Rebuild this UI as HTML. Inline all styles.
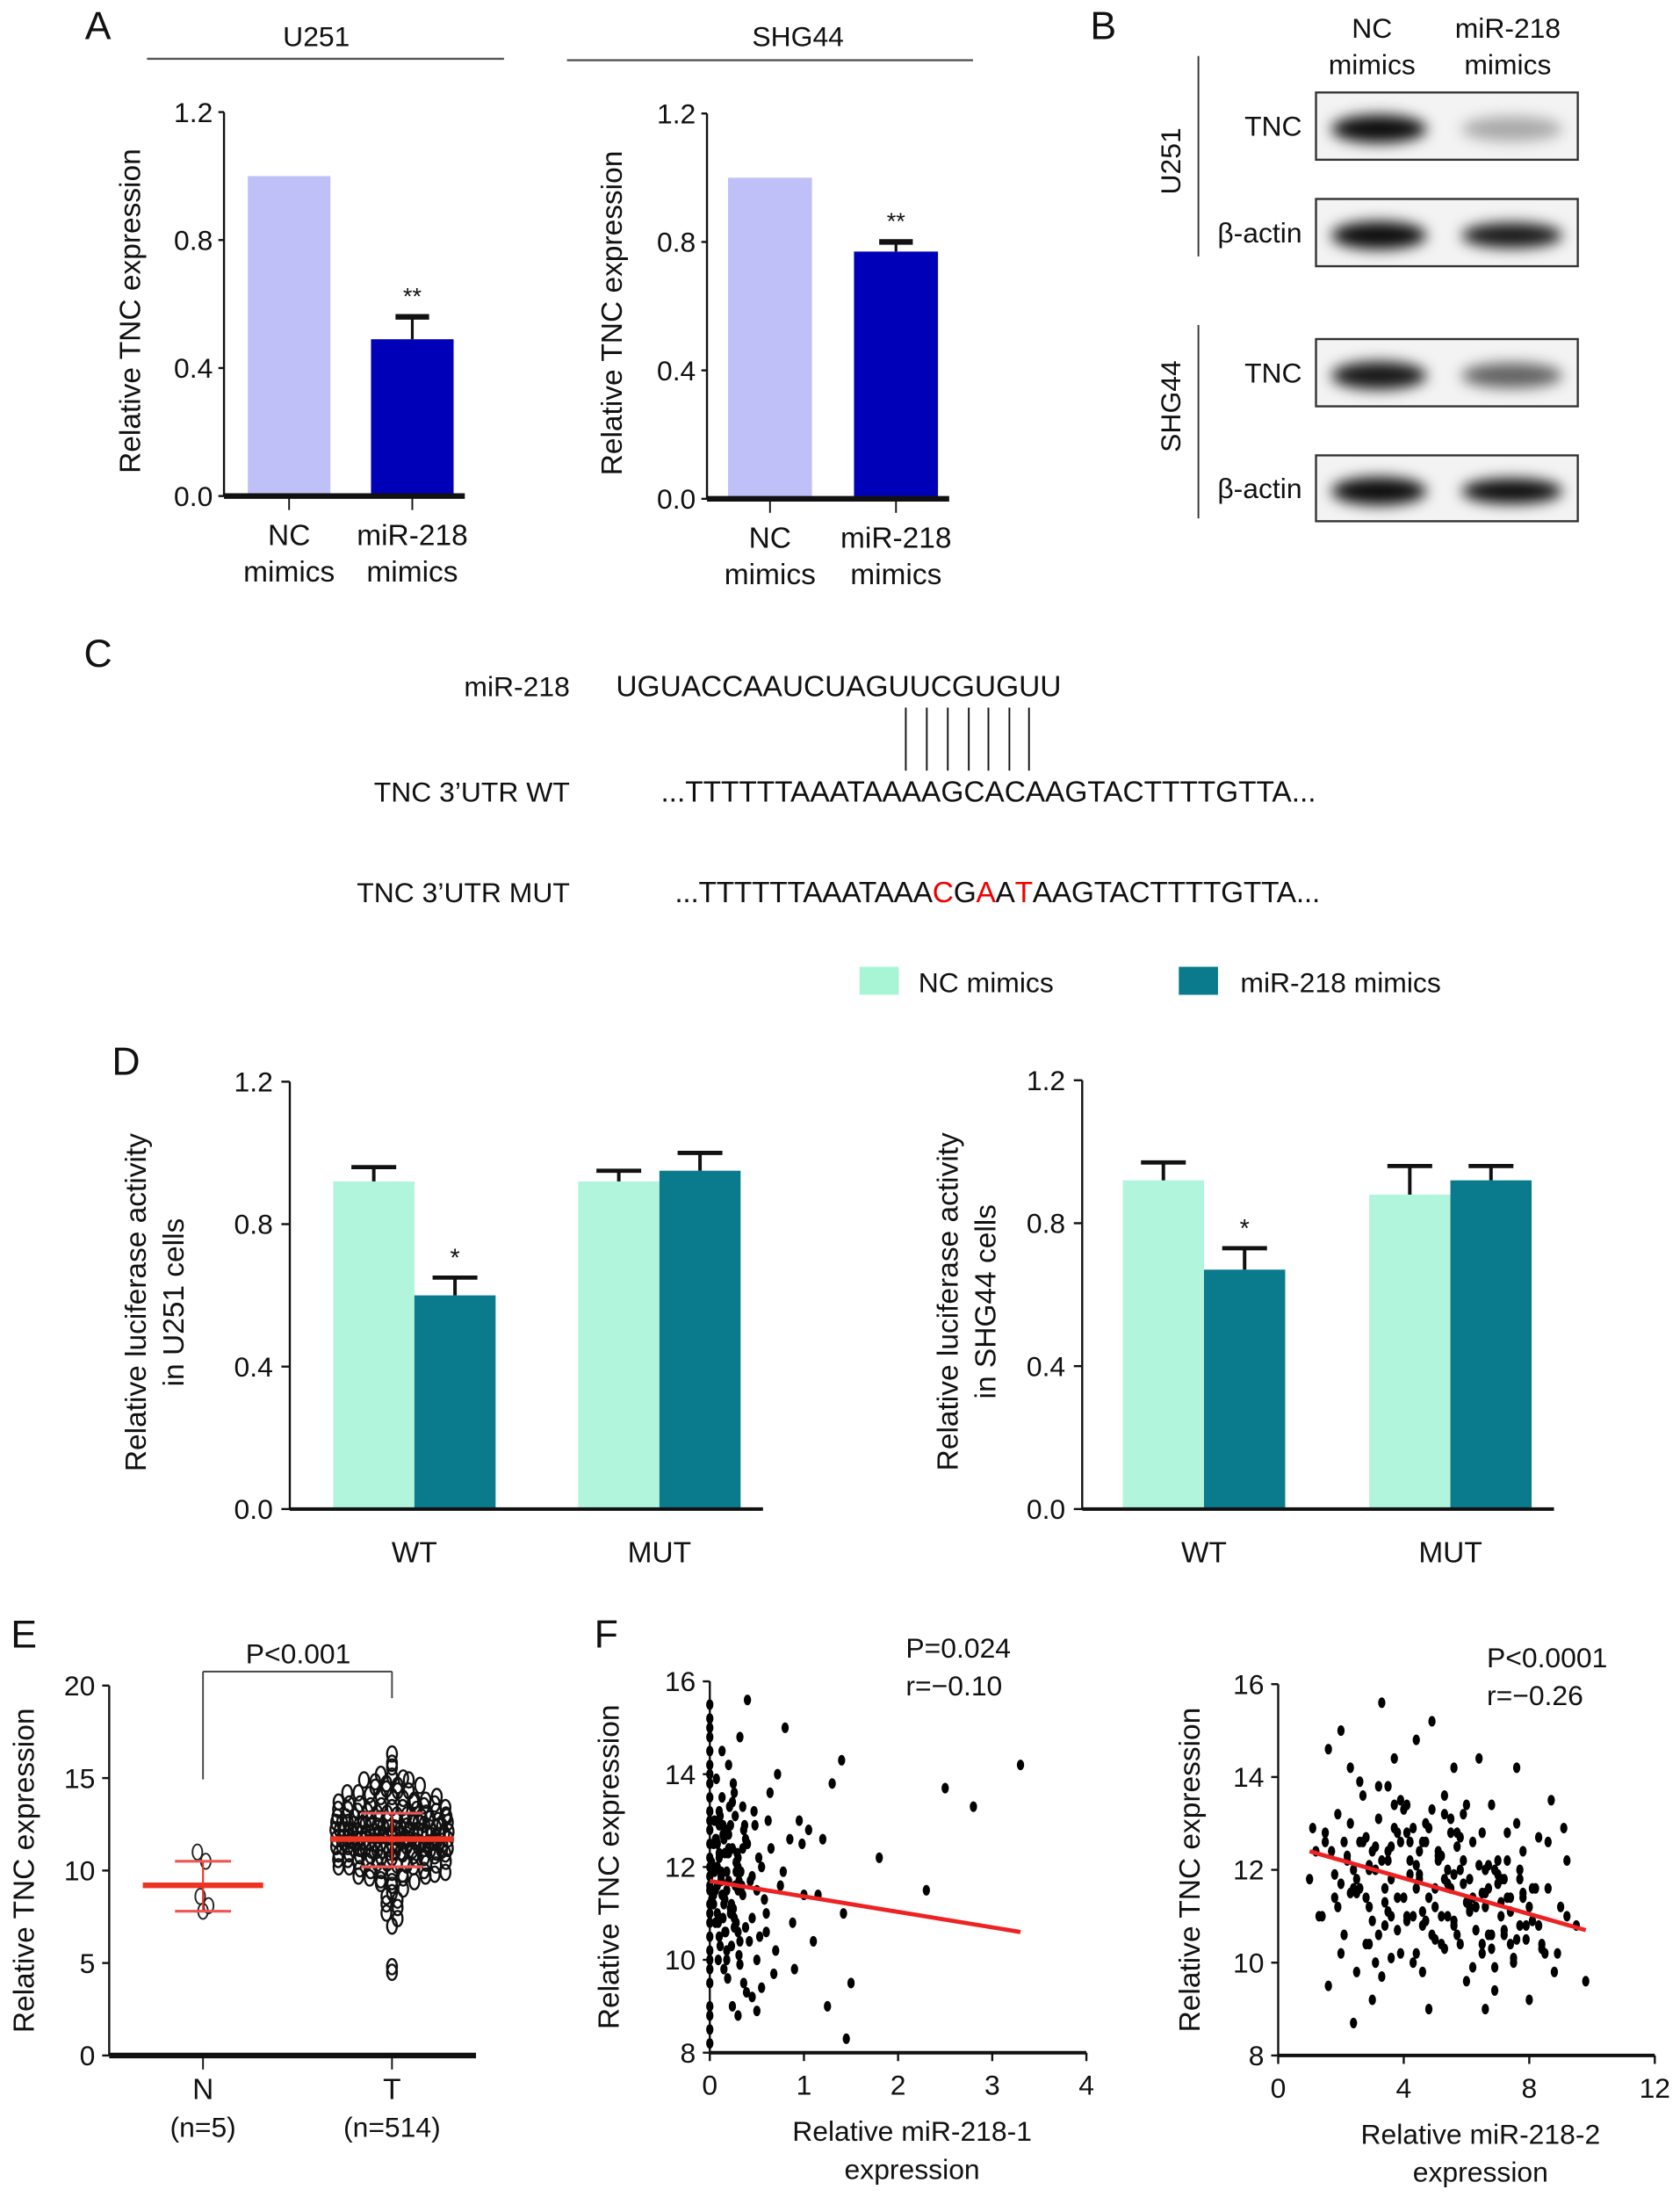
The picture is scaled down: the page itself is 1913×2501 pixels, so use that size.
<!DOCTYPE html>
<html><head><meta charset="utf-8"><style>
html,body{margin:0;padding:0;background:#fff;}
svg{display:block;font-family:"Liberation Sans",Arial,sans-serif;}
</style></head><body>
<svg id="fig" xmlns="http://www.w3.org/2000/svg" width="1913" height="2501" viewBox="0 0 1200 1568" preserveAspectRatio="none">
<defs><filter id="blur" x="-30%" y="-80%" width="160%" height="260%"><feGaussianBlur stdDeviation="5"/></filter></defs>
<g id="root"></g>
</svg>
<script>
// ===== DATA =====
const aCats = ["NC mimics","miR-218 mimics"];
const aU251 = [1.0, 0.49];
const aU251Err = [0, 0.07];
const aSHG44 = [1.0, 0.77];
const aSHG44Err = [0, 0.03];
const aTicks = [0.0, 0.4, 0.8, 1.2];
const dGroups = ["WT","MUT"];
const dU251NC = [0.92, 0.92];
const dU251NCErr = [0.04, 0.03];
const dU251Mi = [0.60, 0.95];
const dU251MiErr = [0.05, 0.05];
const dSHGNC = [0.92, 0.88];
const dSHGNCErr = [0.05, 0.08];
const dSHGMi = [0.67, 0.92];
const dSHGMiErr = [0.06, 0.04];
const eTicks = [0,5,10,15,20];
const eN = [11.0,10.5,8.6,8.1,7.8];
const eNStats = [9.2, 10.5, 7.8];
const eTStats = [11.7, 13.1, 10.2];
const eT = [16.3,15.8,15.6,15.2,15.1,15.0,14.9,14.8,14.7,14.6,14.5,14.4,14.3,14.2,14.2,14.1,14.0,14.0,13.9,13.8,13.8,13.7,13.6,13.6,13.5,13.5,13.4,13.4,13.3,13.3,13.2,13.2,13.1,13.1,13.0,13.0,12.9,12.9,12.9,12.8,12.8,12.8,12.7,12.7,12.7,12.6,12.6,12.6,12.5,12.5,12.5,12.4,12.4,12.4,12.3,12.3,12.3,12.2,12.2,12.2,12.1,12.1,12.1,12.0,12.0,12.0,11.9,11.9,11.9,11.8,11.8,11.8,11.7,11.7,11.7,11.6,11.6,11.6,11.5,11.5,11.5,11.4,11.4,11.4,11.3,11.3,11.3,11.2,11.2,11.2,11.1,11.1,11.1,11.0,11.0,11.0,10.9,10.9,10.8,10.8,10.7,10.7,10.6,10.6,10.5,10.5,10.4,10.4,10.3,10.3,10.2,10.2,10.1,10.0,10.0,9.9,9.8,9.7,9.6,9.5,9.4,9.3,9.2,9.0,8.8,8.6,8.4,8.2,8.0,7.7,7.4,7.0,4.8,4.5,12.0,11.8,12.2,11.6,11.9,12.4,11.3,12.6,11.1,12.8,
 14.9,14.6,14.3,14.0,13.7,13.5,13.3,13.1,12.9,12.8,12.6,12.5,12.3,12.2,12.1,12.0,11.9,11.8,11.7,11.6,11.5,11.4,11.3,11.2,11.1,11.0,10.9,10.8,10.6,10.4,10.2,10.0,9.8,9.6,9.4,13.6,13.2,12.7,12.3,11.9,11.5,11.1,10.7,10.3,9.9,12.4,12.0,11.6,11.2,10.8,12.9,12.1,11.4,10.9,13.4,12.6,11.7,10.5,9.7,13.0];
const f1X = [0,0,0,0,0,0,0,0,0,0,0,0,0,0,0.03,0.05,0.06,0.08,0.1,0.1,0.12,0.13,0.15,0.15,0.17,0.18,0.2,0.2,0.22,0.24,0.25,0.27,0.28,0.3,0.3,0.32,0.35,0.36,0.38,0.4,0.42,0.45,0.47,0.5,0.52,0.55,0.6,0.62,0.65,0.7,0.72,0.75,0.8,0.85,0.9,0.95,1.0,1.05,1.1,1.2,1.25,1.3,1.4,1.42,1.45,1.5,1.8,2.3,2.5,2.8,3.3,0.05,0.08,0.1,0.12,0.14,0.16,0.18,0.2,0.22,0.25,0.28,0.3,0.33,0.35,0.4,0.45,0.5,0.55,0.6,0.04,0.07,0.09,0.11,0.13,0.19,0.23,0.26,0.31,0.37,
 0,0,0,0,0,0,0,0,0,0,0,0,0,0,0,0,0.02,0.04,0.06,0.08,0.1,0.12,0.14,0.16,0.18,0.2,0.22,0.24,0.26,0.28,0.3,0.32,0.34,0.36,0.02,0.04,0.06,0.08,0.1,0.12,0.14,0.16,0.18,0.2,0.22,0.24,0.26,0.28,0.3,0.32,0.07,0.11,0.15,0.19,0.23,0.27,0.31,0.35,0.39,0.43,0.48,0.53,0.58,0.64,0.68,0.78,0.88,0.98,1.15,0.5,0.45,0.38,0.33,0.29,0.21,0.17,0.13,0.09];
const f1Y = [15.5,15.0,14.5,14.0,13.5,13.0,12.5,12.0,11.5,11.0,10.5,10.0,9.0,8.2,12.0,13.0,11.5,12.5,12.2,10.5,11.8,13.5,11.2,9.8,12.8,10.2,12.4,14.2,11.0,9.0,13.8,11.6,10.8,12.0,8.8,14.8,11.4,9.5,12.6,15.6,10.4,11.8,13.2,10.0,12.2,9.4,11.0,13.0,12.4,10.2,14.0,11.6,15.0,12.6,9.8,13.0,11.4,12.8,10.4,12.6,9.0,13.8,14.3,11.0,8.3,9.5,12.2,11.5,13.7,13.3,14.2,11.9,11.6,12.3,11.9,12.7,11.3,10.0,11.7,12.9,11.1,12.1,10.6,11.9,13.3,12.5,10.9,11.5,12.0,10.6,11.2,12.6,10.8,13.1,11.4,12.3,10.3,13.6,11.7,12.9,
 15.2,14.8,14.2,13.8,13.2,12.8,12.2,11.8,11.2,10.8,10.2,9.8,9.5,8.8,8.5,11.6,12.1,11.4,12.6,11.0,12.9,11.7,10.9,12.3,11.5,12.7,11.1,12.4,10.7,11.9,12.2,10.4,11.6,12.8,11.3,12.5,10.8,12.0,13.2,11.7,12.9,10.6,11.9,12.3,11.1,13.4,10.9,12.1,11.5,9.9,13.9,10.3,12.6,9.6,11.2,13.1,10.1,12.4,9.3,11.7,12.9,10.5,11.3,13.6,9.7,11.9,10.8,12.5,11.4,8.9,9.2,10.7,11.5,12.3,13.3,10.6,14.5,10.0];
const f1Fit = [[0,11.7],[3.3,10.6]];
const f1XTicks = [0,1,2,3,4];
const fYTicks = [8,10,12,14,16];
const f2X = [1.0,1.2,1.3,1.5,1.6,1.8,1.9,2.0,2.1,2.2,2.3,2.4,2.5,2.6,2.7,2.8,2.9,3.0,3.1,3.2,3.3,3.4,3.5,3.6,3.7,3.8,3.9,4.0,4.1,4.2,4.3,4.4,4.5,4.6,4.7,4.8,4.9,5.0,5.1,5.2,5.3,5.4,5.5,5.6,5.7,5.8,5.9,6.0,6.1,6.2,6.3,6.4,6.5,6.6,6.7,6.8,6.9,7.0,7.1,7.2,7.3,7.4,7.5,7.6,7.7,7.8,7.9,8.0,8.2,8.4,8.6,8.8,9.0,9.2,9.5,9.8,1.4,1.7,2.0,2.3,2.6,2.9,3.2,3.5,3.8,4.1,4.4,4.7,5.0,5.3,5.6,5.9,6.2,6.5,6.8,7.1,7.4,7.7,8.0,8.3,8.6,8.9,9.2,2.1,2.5,2.9,3.3,3.7,4.1,4.5,4.9,5.3,5.7,6.1,6.5,6.9,7.3,7.7,8.1,8.5,1.9,2.4,2.8,3.1,3.4,3.9,4.3,4.6,5.1,5.5,5.8,6.3,6.7,7.2,7.6,3.0,3.6,4.2,4.8,5.4,6.0,6.6,2.7,3.5,4.4,5.2,6.1,7.0,
 1.1,1.5,1.8,2.2,2.5,2.8,3.0,3.2,3.4,3.6,3.8,4.0,4.2,4.4,4.6,4.8,5.0,5.2,5.4,5.6,5.8,6.0,6.2,6.4,6.6,6.8,7.0,7.2,7.4,7.6,7.8,8.1,8.4,8.7,9.1,2.0,2.6,3.1,3.5,3.9,4.3,4.7,5.1,5.5,5.9,6.3,6.7,7.1,7.5,7.9,8.3,2.3,2.9,3.3,3.7,4.1,4.5,4.9,5.3,5.7,6.1,6.5,6.9,7.3,7.8,1.6,2.4,3.6,4.6,5.6,6.6,7.6,8.6];
const f2Y = [11.8,12.4,11.0,12.8,14.6,11.4,13.2,15.0,10.6,12.2,14.2,11.6,9.8,12.6,13.6,10.4,11.2,9.2,12.0,13.8,15.6,10.8,12.4,11.0,14.4,12.8,10.2,11.4,13.4,12.2,10.0,14.8,11.8,12.6,13.0,9.0,15.2,11.6,12.4,10.4,13.6,11.0,12.8,14.2,10.6,12.0,13.2,9.6,11.8,12.6,11.2,14.4,10.2,12.0,11.6,13.4,9.4,12.2,11.0,10.6,12.8,11.4,10.0,14.2,11.8,12.4,10.8,9.2,11.6,10.4,12.6,9.8,11.2,12.2,10.8,9.6,11.0,12.4,10.2,13.0,11.6,12.0,10.6,13.8,11.4,12.8,10.2,12.6,11.2,13.2,10.8,12.2,11.4,12.8,10.6,11.8,10.4,12.0,11.2,10.8,11.6,10.2,11.0,12.6,11.8,10.4,12.2,13.4,11.0,12.4,10.6,11.8,12.8,11.2,10.4,12.0,11.4,10.8,11.6,10.2,11.2,12.0,11.4,10.0,11.6,12.6,11.0,10.8,12.2,11.6,10.4,11.2,10.6,11.8,13.0,12.4,11.8,12.6,11.4,12.0,13.4,11.2,12.6,12.2,11.6,11.0,
 11.2,11.7,12.9,12.6,11.9,12.3,11.5,12.7,10.9,13.1,11.3,12.5,10.7,13.3,11.9,12.1,11.1,12.9,10.5,12.3,11.7,10.9,12.7,11.3,9.9,12.1,11.5,10.3,11.9,10.7,11.1,10.5,11.5,10.9,10.3,13.5,12.9,11.7,13.9,12.5,11.1,13.5,12.9,10.9,12.3,13.1,11.7,10.7,12.1,11.3,10.1,10.5,12.7,11.5,12.1,9.7,12.9,10.9,11.9,13.3,10.3,12.5,11.1,11.5,9.9,12.2,11.4,9.5,8.7,10.1,9.8,11.9,9.0];
const f2Fit = [[1.0,12.4],[9.8,10.7]];
const f2XTicks = [0,4,8,12];

// ===== HELPERS =====
const root = document.getElementById('root');
const NS = "http://www.w3.org/2000/svg";
function mk(tag, attrs, parent){ const e=document.createElementNS(NS,tag); for(const k in attrs) e.setAttribute(k,attrs[k]); (parent||root).appendChild(e); return e; }
function txt(x,y,s,size,anchor,name,extra){ const t=mk('text',Object.assign({x:x,y:y,'font-size':size,'text-anchor':anchor||'middle',fill:'#111'},extra||{})); t.textContent=s;
 
 
 return t; }
function line(x1,y1,x2,y2,w,name,col){ const l=mk('line',{x1:x1,y1:y1,x2:x2,y2:y2,stroke:col||'#111','stroke-width':w});
 
 
 return l; }
function rect(x,y,w,h,fill,name){ const r=mk('rect',{x:x,y:y,width:w,height:h,fill:fill});
 
 
 return r; }
function vtext(x,y,s,size,name){ const t=txt(0,0,s,size,'middle',name); t.setAttribute('transform','translate('+x+','+y+') rotate(-90)'); return t; }
function yScale(y0,y1,vmax){ return v => y0 - (y0-y1)*v/vmax; }

// ===== PANEL A =====
txt(70,28,'A',28,'middle','panel-label-a');
txt(226,33,'U251',20,'middle','u251-header'); line(105,42,360,42,1.5,'u251-header-line','#555');
txt(570,33,'SHG44',20,'middle','shg44-header'); line(405,43,695,43,1.5,'shg44-header-line','#555');
function panelA(ax,y0,y1,bx,bw,vals,errs,lx,name){
  const ys=yScale(y0,y1,1.2);
  line(ax,y1,ax,y0,1.5,name+'-y-axis');
  aTicks.forEach(t=>{ line(ax-4,ys(t),ax,ys(t),1.5,name+'-y-tick'); txt(ax-8,ys(t)+7,t.toFixed(1),20,'end',name+'-y-tick-label'); });
  const cols=['#c0c0f8','#0000b8'];
  vals.forEach((v,i)=>{
    rect(bx[i],ys(v),bw,y0-ys(v),cols[i],name+'-bar-'+i);
    if(errs[i]>0){ const cx=bx[i]+bw/2; line(cx,ys(v),cx,ys(v+errs[i]),2,name+'-error-bar'); line(cx-12,ys(v+errs[i]),cx+12,ys(v+errs[i]),4,name+'-error-cap');
      txt(cx,ys(v+errs[i])-9,'**',17,'middle',name+'-significance'); }
    const cx=bx[i]+bw/2; line(cx,y0,cx,y0+10,1.2,name+'-x-tick');
    const parts=aCats[i].split(' ');
    txt(cx,y0+35,parts[0],21,'middle',name+'-x-label');
    txt(cx,y0+61,parts[1],21,'middle',name+'-x-label');
  });
  line(ax,y0,bx[1]+bw+8,y0,4,name+'-baseline');
  vtext(lx,(y0+y1)/2+5,'Relative TNC expression',21,name+'-y-axis-title');
}
panelA(160,354,80,[177,265],59,aU251,aU251Err,100,'a-u251');
panelA(505,356,81,[520,610],60,aSHG44,aSHG44Err,444,'a-shg44');

// ===== PANEL B =====
txt(788,28,'B',28,'middle','panel-label-b');
txt(980,27,'NC',20,'middle','b-col-nc'); txt(980,53,'mimics',20,'middle','b-col-nc');
txt(1077,27,'miR-218',20,'middle','b-col-mir'); txt(1077,53,'mimics',20,'middle','b-col-mir');
line(856,40,856,183,1.2,'b-u251-bracket','#333'); vtext(843,115,'U251',20,'b-u251-label');
line(856,232,856,370,1.2,'b-shg44-bracket','#333'); vtext(843,290,'SHG44',20,'b-shg44-label');
function blot(y,h,label,l,r,name){
  const b=rect(940,y,187,h,'#f3f3f3',name+'-box'); b.setAttribute('stroke','#333'); b.setAttribute('stroke-width','1.5');
  txt(930,y+h/2+7,label,20,'end',name+'-label');
  const g=mk('g',{filter:'url(#blur)'});
  
  
  mk('ellipse',{cx:985,cy:y+h/2+2,rx:34,ry:10,fill:'#000','fill-opacity':l},g);
  mk('ellipse',{cx:1080,cy:y+h/2+2,rx:36,ry:9,fill:'#000','fill-opacity':r},g);
}
blot(66,48,'TNC',0.95,0.3,'b-u251-tnc');
blot(142,48,'β-actin',0.95,0.9,'b-u251-actin');
blot(242,48,'TNC',0.9,0.6,'b-shg44-tnc');
blot(325,47,'β-actin',0.95,0.95,'b-shg44-actin');

// ===== PANEL C =====
txt(70,476,'C',28,'middle','panel-label-c');
txt(407,497,'miR-218',20,'end','c-mir218-label');
txt(440,497,'UGUACCAAUCUAGUUCGUGUU',21,'start','c-mir218-seq',{textLength:318});
[647,662,677,692,706,721,735].forEach(x=>line(x,505,x,550,1.2,'c-pairing-line'));
txt(407,572,"TNC 3’UTR WT",20,'end','c-wt-label');
txt(472,572,'...TTTTTTAAATAAAAGCACAAGTACTTTTGTTA...',21,'start','c-wt-seq',{textLength:468});
txt(407,644,"TNC 3’UTR MUT",20,'end','c-mut-label');
const mt=txt(482,644,'',21,'start','c-mut-seq',{textLength:461});
[['...TTTTTTAAATAAA','#111'],['C','#e00'],['G','#111'],['A','#e00'],['A','#111'],['T','#e00'],['AAGTACTTTTGTTA...','#111']].forEach(p=>{const s=mk('tspan',{fill:p[1]},mt); s.textContent=p[0];});

rect(614,690,28,20,'#a8f5d6','legend-swatch-nc'); txt(656,708,'NC mimics',20,'start','legend-entry-nc');
rect(842,690,28,20,'#0a7b8c','legend-swatch-mir'); txt(886,708,'miR-218 mimics',20,'start','legend-entry-mir');

// ===== PANEL D =====
txt(90,767,'D',28,'middle','panel-label-d');
function panelD(ax,y0,y1,gx,bw,nc,ncE,mi,miE,lx,lines,name){
  const ys=yScale(y0,y1,1.2);
  line(ax,y1,ax,y0,1.5,name+'-y-axis');
  aTicks.forEach(t=>{ line(ax-6,ys(t),ax,ys(t),1.5,name+'-y-tick'); txt(ax-12,ys(t)+7,t.toFixed(1),20,'end',name+'-y-tick-label'); });
  dGroups.forEach((g,i)=>{
    const c=gx[i];
    [[nc,ncE,'#b0f5dc',c-bw],[mi,miE,'#0a7b8c',c]].forEach((s,j)=>{
      const v=s[0][i], e=s[1][i], x=s[3];
      rect(x,ys(v),bw,y0-ys(v),s[2],name+'-bar-'+g+'-'+j);
      const cx=x+bw/2; line(cx,ys(v),cx,ys(v+e),2.5,name+'-error-bar'); line(cx-16,ys(v+e),cx+16,ys(v+e),3,name+'-error-cap');
      if(g==='WT'&&j===1) txt(cx,ys(v+e)-8,'*',18,'middle',name+'-significance');
    });
    txt(c,y0+38,g,21,'middle',name+'-x-label');
  });
  line(ax,y0,gx[1]+bw+16,y0,2.5,name+'-baseline');
  vtext(lx,(y0+y1)/2+5,lines[0],21,name+'-y-axis-title');
  vtext(lx+27,(y0+y1)/2+5,lines[1],21,name+'-y-axis-title');
}
panelD(207,1077,772,[296,471],58,dU251NC,dU251NCErr,dU251Mi,dU251MiErr,104,['Relative luciferase activity','in U251 cells'],'d-u251');
panelD(773,1077,771,[860,1036],58,dSHGNC,dSHGNCErr,dSHGMi,dSHGMiErr,684,['Relative luciferase activity','in SHG44 cells'],'d-shg44');

// ===== PANEL E =====
txt(17,1176,'E',28,'middle','panel-label-e');
(function(){
  const ax=78,y0=1467,y1=1203; const ys=v=>y0-(y0-y1)*v/20;
  line(ax,y1,ax,y0,1.5,'e-y-axis');
  eTicks.forEach(t=>{ line(ax-5,ys(t),ax,ys(t),1.5,'e-y-tick'); txt(ax-10,ys(t)+7,String(t),20,'end','e-y-tick-label'); });
  line(ax,y0,340,y0,4,'e-baseline');
  const nx=145,tx=280;
  line(nx,y0,nx,y0+10,1.2,'e-x-tick'); line(tx,y0,tx,y0+10,1.2,'e-x-tick');
  txt(nx,1498,'N',21,'middle','e-x-label-n'); txt(nx,1525,'(n=5)',20,'middle','e-x-label-n-count');
  txt(tx,1498,'T',21,'middle','e-x-label-t'); txt(tx,1525,'(n=514)',20,'middle','e-x-label-t-count');
  vtext(24,1335,'Relative TNC expression',21,'e-y-axis-title');
  line(nx,1193,tx,1193,1.2,'e-bracket','#444'); line(nx,1193,nx,1270,1.2,'e-bracket','#444'); line(tx,1193,tx,1212,1.2,'e-bracket','#444');
  txt(213,1187,'P<0.001',20,'middle','e-p-value');
  const nOff=[-4,2,-2,4,0];
  eN.forEach((v,i)=>{ const e=mk('ellipse',{cx:nx+nOff[i],cy:ys(v),rx:3.5,ry:5.5,fill:'none',stroke:'#222','stroke-width':1.2});
    
     });
  const bins={}; eT.forEach(v=>{ const b=Math.round(v/0.4); (bins[b]=bins[b]||[]).push(v); });
  Object.keys(bins).forEach(b=>{ const arr=bins[b]; const n=arr.length; const sp=Math.min(8,84/Math.max(n,1));
    arr.forEach((v,k)=>{ const off=(k-(n-1)/2)*sp; const e=mk('ellipse',{cx:tx+off,cy:ys(v),rx:3.5,ry:5.5,fill:'none',stroke:'#111','stroke-width':1.5});
      
       }); });
  [[nx,eNStats,43,20],[tx,eTStats,44,22]].forEach((s)=>{
    const c=s[0],st=s[1];
    line(c-s[2],ys(st[0]),c+s[2],ys(st[0]),4,'e-mean-line','#e32');
    line(c,ys(st[1]),c,ys(st[2]),1.3,'e-sd-line','#e32');
    line(c-s[3],ys(st[1]),c+s[3],ys(st[1]),2,'e-sd-cap','#e55');
    line(c-s[3],ys(st[2]),c+s[3],ys(st[2]),2,'e-sd-cap','#e55');
  });
})();

// ===== PANEL F =====
txt(433,1176,'F',28,'middle','panel-label-f');
function scatter(ax,x1,xmax,y0,y1,xs,ysArr,fit,xticks,lx,xl,pv,rv,px,py,name){
  const sx=v=>ax+(x1-ax)*v/xmax; const sy=v=>y0-(y0-y1)*(v-8)/8;
  line(ax,y1,ax,y0,1.5,name+'-y-axis');
  fYTicks.forEach(t=>{ line(ax-5,sy(t),ax,sy(t),1.5,name+'-y-tick'); txt(ax-10,sy(t)+7,String(t),20,'end',name+'-y-tick-label'); });
  line(ax,y0,x1,y0,2.5,name+'-x-axis');
  xticks.forEach(t=>{ line(sx(t),y0,sx(t),y0+6,1.5,name+'-x-tick'); txt(sx(t),y0+30,String(t),20,'middle',name+'-x-tick-label'); });
  const n=Math.min(xs.length,ysArr.length);
  for(let i=0;i<n;i++){ const e=mk('ellipse',{cx:sx(xs[i]),cy:sy(ysArr[i]),rx:2.6,ry:3.8,fill:'#000'});
    
     }
  line(sx(fit[0][0]),sy(fit[0][1]),sx(fit[1][0]),sy(fit[1][1]),3,name+'-regression-line','#e22');
  vtext(lx,(y0+y1)/2,'Relative TNC expression',21,name+'-y-axis-title');
  txt((ax+x1)/2+10,y0+63,xl,20,'middle',name+'-x-axis-title');
  txt((ax+x1)/2+10,y0+90,'expression',20,'middle',name+'-x-axis-title');
  txt(px,py,pv,20,'start',name+'-p-value'); txt(px,py+27,rv,20,'start',name+'-r-value');
}
scatter(507,776,4,1465,1200,f1X,f1Y,f1Fit,f1XTicks,442,'Relative miR-218-1','P=0.024','r=−0.10',647,1183,'f-mir218-1');
scatter(913,1182,12,1467,1202,f2X,f2Y,f2Fit,f2XTicks,857,'Relative miR-218-2','P<0.0001','r=−0.26',1062,1190,'f-mir218-2');
</script>
</body></html>
